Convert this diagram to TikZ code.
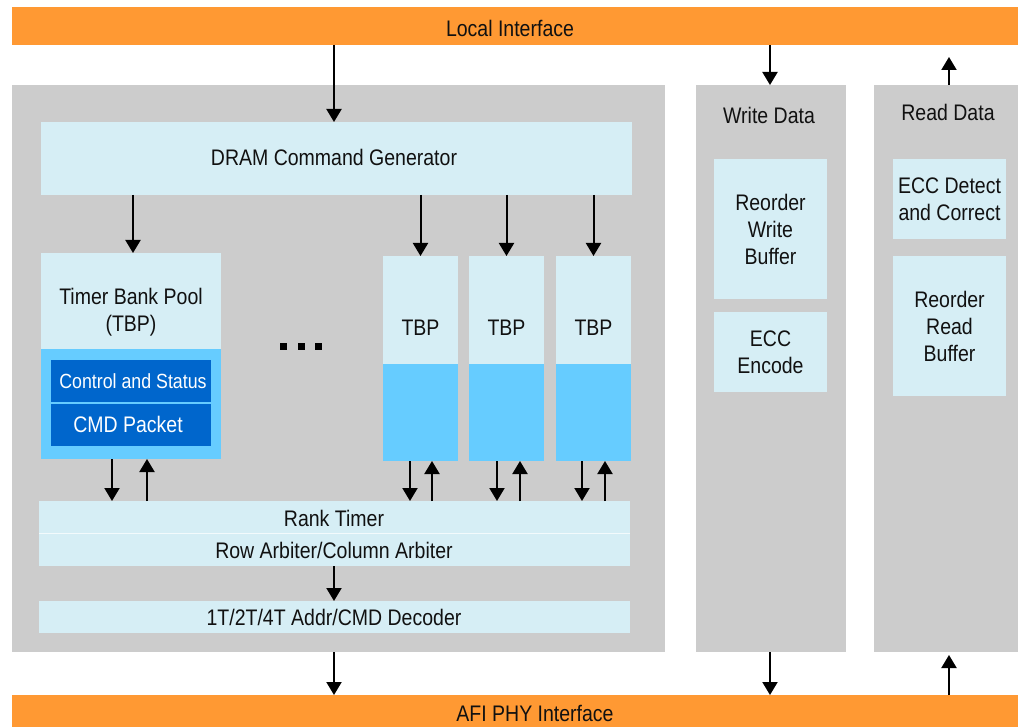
\documentclass[tikz,border=0pt]{standalone}
\usepackage{fontspec}
\setmainfont{Liberation Sans}[FakeStretch=0.867]
\usetikzlibrary{arrows.meta}

\definecolor{ifaceorange}{HTML}{FF9933}
\definecolor{panelgrey}{HTML}{CCCCCC}
\definecolor{cellblue}{HTML}{D6EEF5}
\definecolor{tbpblue}{HTML}{66CCFF}
\definecolor{regblue}{HTML}{0066CC}
\definecolor{inktext}{HTML}{111111}

\begin{document}
\begin{tikzpicture}[x=1pt,y=-1pt,
  box/.style={rectangle, inner sep=0pt, outer sep=0pt, anchor=north west, draw=none,
              text=inktext, align=center, font=\fontsize{22.5}{27}\selectfont},
  bar/.style={box, fill=ifaceorange},
  panel/.style={box, fill=panelgrey},
  cell/.style={box, fill=cellblue},
  store/.style={box, fill=tbpblue},
  reg/.style={box, fill=regblue, text=white},
  lbl/.style={inner sep=0pt, outer sep=0pt, text=inktext, align=center,
              font=\fontsize{22.5}{27}\selectfont},
  arr/.style={line width=2pt, -{Triangle[width=15pt,length=13pt]}}]

\useasboundingbox (0,0) rectangle (1018,727);
\fill[white] (0,0) rectangle (1018,727);

% interface bars
\node[bar, minimum width=1006pt, minimum height=38pt] (local) at (12,7) {};
\node[lbl] (localtxt) at (510,28) {Local Interface};
\node[bar, minimum width=1006pt, minimum height=34pt] (afi) at (12,695) {};
\node[lbl] (afitxt) at (535,713) {AFI PHY Interface};

% main panels
\node[panel, minimum width=653pt, minimum height=567pt] (main) at (12,85) {};
\node[panel, minimum width=150pt, minimum height=567pt] (wr) at (696,85) {};
\node[panel, minimum width=144pt, minimum height=567pt] (rd) at (874,85) {};
\node[lbl] (wrtxt) at (769,115) {Write Data};
\node[lbl] (rdtxt) at (948,112) {Read Data};

% command path
\node[cell, minimum width=591pt, minimum height=73pt] (dram) at (41,122) {};
\node[lbl] (dramtxt) at (334,157) {DRAM Command Generator};

\node[cell, minimum width=180pt, minimum height=96pt] (pooltop) at (41,253) {};
\node[store, minimum width=180pt, minimum height=110pt] (poolbot) at (41,349) {};
\node[lbl] (pooltxt) at (131,312) {Timer Bank Pool\\(TBP)};
\node[reg, minimum width=160pt, minimum height=42pt] (ctl) at (51,360) {};
\node[reg, minimum width=160pt, minimum height=42pt] (cmd) at (51,404) {};
\node[lbl, text=white, font=\fontsize{20.5}{24}\selectfont] (ctltxt) at (133,381) {Control and Status};
\node[lbl, text=white] (cmdtxt) at (128,424) {CMD Packet};

% ellipsis between the pool and the individual banks
\foreach \dx in {280,298,315}
  \fill[black] (\dx,343) rectangle ++(7,7);

\foreach \n/\x in {a/383,b/469,c/556}{
  \node[cell, minimum width=75pt, minimum height=108pt] (tbp\n top) at (\x,256) {};
  \node[store, minimum width=75pt, minimum height=97pt] (tbp\n bot) at (\x,364) {};
  \node[lbl] (tbp\n txt) at (\x+37.5,328) {TBP};
}

\node[cell, minimum width=591pt, minimum height=32pt] (rank) at (39,501) {};
\node[cell, minimum width=591pt, minimum height=32pt] (arb) at (39,534) {};
\draw[white!70!cellblue, line width=1pt] (rank.south west) -- (rank.south east);
\node[lbl] (ranktxt) at (334,518) {Rank Timer};
\node[lbl] (arbtxt) at (334,550) {Row Arbiter/Column Arbiter};
\node[cell, minimum width=591pt, minimum height=32pt] (dec) at (39,601) {};
\node[lbl] (dectxt) at (334,617) {1T/2T/4T Addr/CMD Decoder};

% data path
\node[cell, minimum width=113pt, minimum height=140pt] (rwb) at (714,159) {Reorder\\Write\\Buffer};
\node[cell, minimum width=113pt, minimum height=80pt] (ecce) at (714,312) {ECC\\Encode};
\node[cell, minimum width=113pt, minimum height=80pt] (eccd) at (893,159) {ECC Detect\\and Correct};
\node[cell, minimum width=113pt, minimum height=140pt] (rrb) at (893,256) {Reorder\\Read\\Buffer};

% arrow columns
\coordinate (xmain) at (334,0);
\coordinate (xpool) at (133,0);
\coordinate (xpd) at (112,0);
\coordinate (xpu) at (147,0);
\coordinate (xwr) at (770,0);
\coordinate (xrd) at (949,0);
\coordinate (rdtip) at (949,57);
\coordinate (rdbot) at (949,655);

\draw[arr] (local.south -| xmain) -- (dram.north -| xmain);
\draw[arr] (dram.south -| xpool) -- (pooltop.north -| xpool);
\foreach \n in {a,b,c}
  \draw[arr] (dram.south -| tbp\n top.north) -- (tbp\n top.north);

\draw[arr] (poolbot.south -| xpd) -- (rank.north -| xpd);
\draw[arr] (rank.north -| xpu) -- (poolbot.south -| xpu);
\foreach \n/\d/\u in {a/410/432,b/497/520,c/582/605}{
  \coordinate (d\n) at (\d,0);
  \coordinate (u\n) at (\u,0);
  \draw[arr] (tbp\n bot.south -| d\n) -- (rank.north -| d\n);
  \draw[arr] (rank.north -| u\n) -- (tbp\n bot.south -| u\n);
}

\draw[arr] (arb.south -| xmain) -- (dec.north -| xmain);
\draw[arr] (main.south -| xmain) -- (afi.north -| xmain);

\draw[arr] (local.south -| xwr) -- (wr.north -| xwr);
\draw[arr] (wr.south -| xwr) -- (afi.north -| xwr);
\draw[arr] (rd.north -| xrd) -- (rdtip);
\draw[arr] (afi.north -| xrd) -- (rdbot);

\end{tikzpicture}
\end{document}
